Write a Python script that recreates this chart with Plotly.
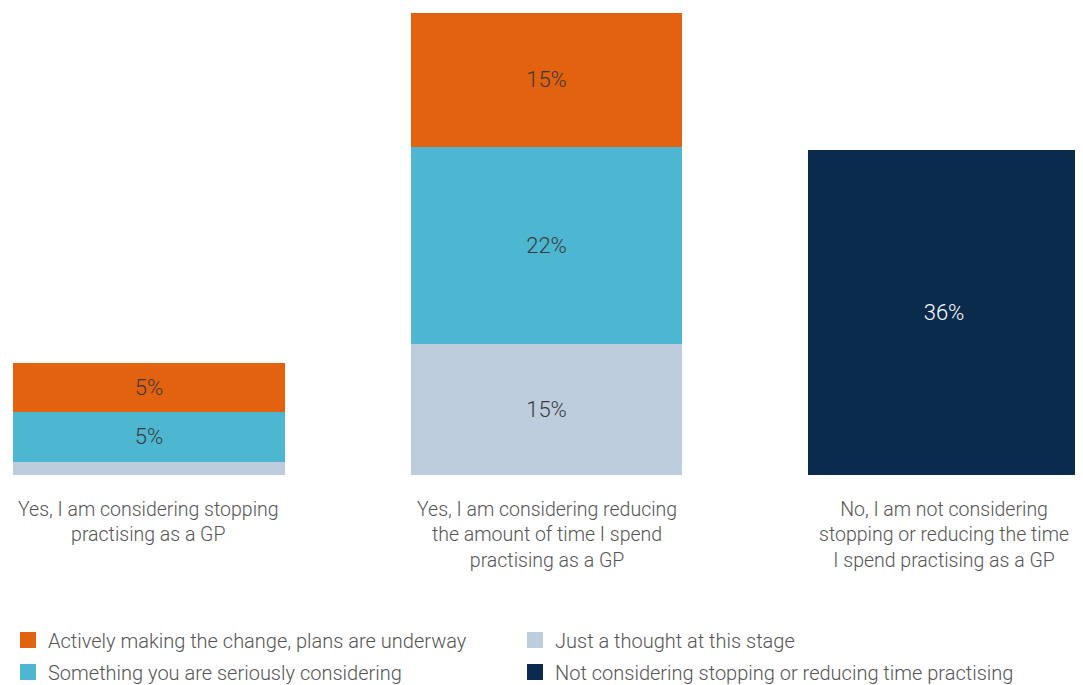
import plotly.graph_objects as go

# categories (one stacked bar each)
categories = [
    "Yes, I am considering stopping<br>practising as a GP",
    "Yes, I am considering reducing<br>the amount of time I spend<br>practising as a GP",
    "No, I am not considering<br>stopping or reducing the time<br>I spend practising as a GP",
]

# series values (% of respondents)
thought_vals = [1.5, 14.8, 0]
serious_vals = [5.6, 22.2, 0]
active_vals = [5.5, 15.1, 0]
not_vals = [0, 0, 36.6]

# labels printed on the segments
thought_text = ["", "15%", ""]
serious_text = ["5%", "22%", ""]
active_text = ["5%", "15%", ""]
not_text = ["", "", "36%"]

xpos = list(range(len(categories)))

fig = go.Figure()

# stacking order bottom -> top; last item says which legend box it goes in
series = [
    ("Just a thought at this stage", thought_vals, thought_text, "#BDCDDE", "#3a3a3a", "legend"),
    ("Something you are seriously considering", serious_vals, serious_text, "#4DB6D1", "#3a3a3a", "legend2"),
    ("Actively making the change, plans are underway", active_vals, active_text, "#E2620F", "#3a3a3a", "legend"),
    ("Not considering stopping or reducing time practising", not_vals, not_text, "#0B2B4D", "white", "legend2"),
]
legend_rank = {
    "Actively making the change, plans are underway": 1,
    "Just a thought at this stage": 2,
    "Something you are seriously considering": 3,
    "Not considering stopping or reducing time practising": 4,
}

for name, vals, txt, col, tcol, leg in series:
    fig.add_trace(go.Bar(
        x=xpos, y=vals, name=name, text=txt,
        textposition="inside", insidetextanchor="middle",
        textfont=dict(color=tcol, size=22, weight=300),
        marker=dict(color=col, line=dict(width=0)),
        width=0.684, showlegend=False,
        hoverinfo="skip",
    ))
    # legend-only entry with a larger square swatch
    fig.add_trace(go.Scatter(
        x=[None], y=[None], mode="markers", name=name,
        marker=dict(symbol="square", size=16, color=col),
        legend=leg, legendrank=legend_rank[name],
    ))

# category labels underneath the bars
for i, cat in enumerate(categories):
    fig.add_annotation(
        x=xpos[i], y=0, text=cat, showarrow=False,
        yanchor="top", yshift=-21,
        font=dict(size=19.5, color="#555555", weight=300),
    )

leg_common = dict(
    orientation="h", xref="container", yref="container", yanchor="middle",
    x=-0.0084, entrywidth=462, itemwidth=30, traceorder="normal",
    font=dict(size=20, color="#555555", weight=300),
)

fig.update_layout(
    barmode="stack",
    width=1075, height=677,
    margin=dict(l=5, r=3, t=5, b=210),
    plot_bgcolor="white", paper_bgcolor="white",
    font=dict(family="Roboto", size=18, color="#555555"),
    xaxis=dict(range=[-0.342, 2.342], visible=False),
    yaxis=dict(range=[0, 52.1], visible=False),
    legend=dict(leg_common, y=0.0665),
    legend2=dict(leg_common, y=0.0192),
)

fig.write_html("out.html")
